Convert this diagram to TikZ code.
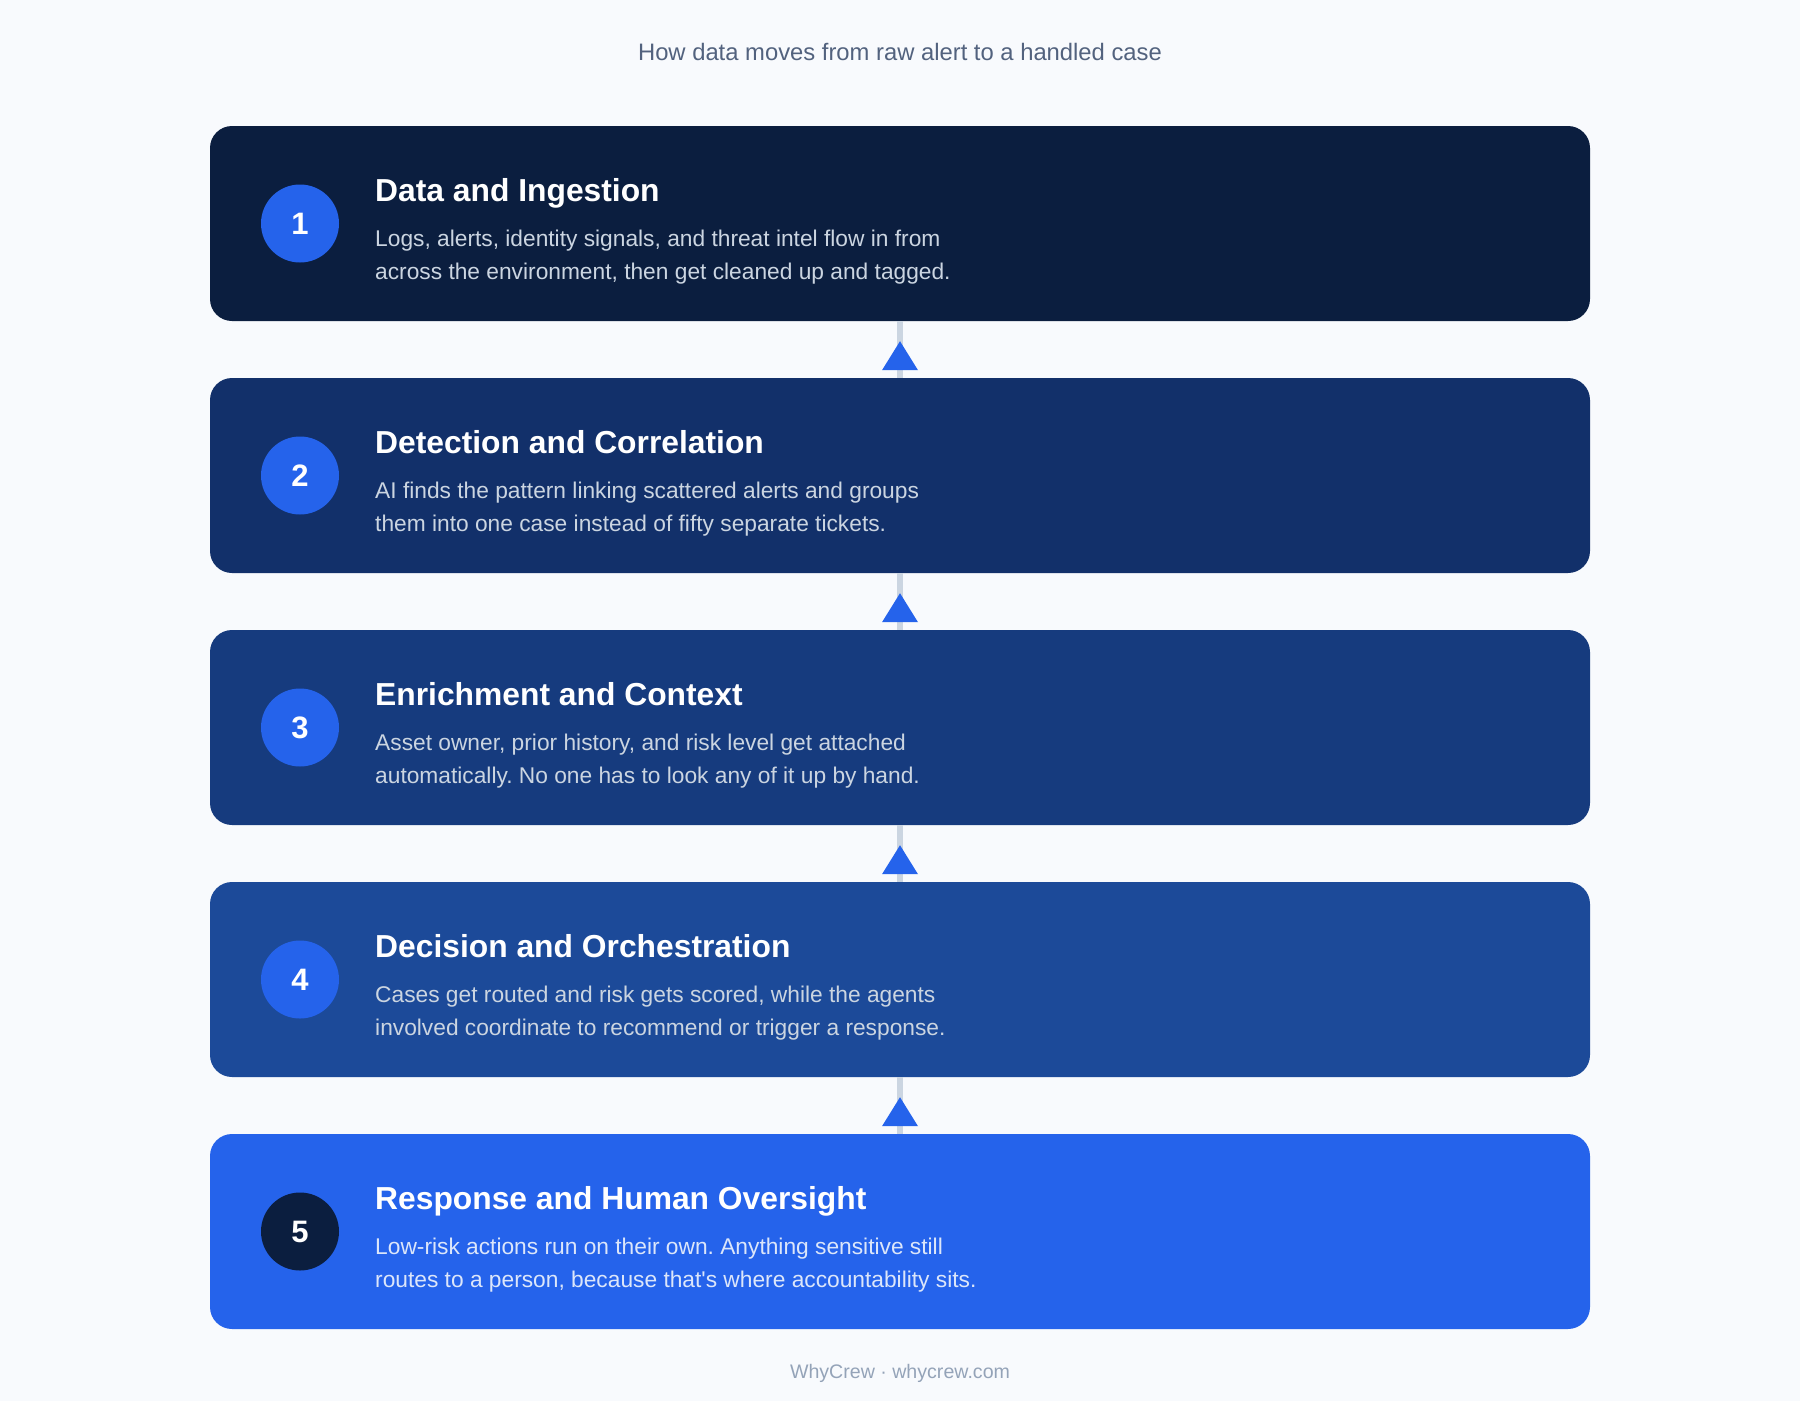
\documentclass[tikz,border=0pt]{standalone}
\usepackage{fontspec}
\setmainfont{Liberation Sans}
\usetikzlibrary{arrows.meta}
\frenchspacing

\definecolor{pageBg}{HTML}{F8FAFD}
\definecolor{navyA}{HTML}{0B1E3F}
\definecolor{navyB}{HTML}{12306A}
\definecolor{navyC}{HTML}{163B7E}
\definecolor{navyD}{HTML}{1C4A99}
\definecolor{brandBlue}{HTML}{2563EB}
\definecolor{railGrey}{HTML}{CBD5E1}
\definecolor{descGrey}{HTML}{CBD5E1}
\definecolor{descLight}{HTML}{DCE6FA}
\definecolor{subGrey}{HTML}{52627E}
\definecolor{footGrey}{HTML}{94A3B8}

\begin{document}
\begin{tikzpicture}
[x=1pt,y=-1pt,
  stageBox/.style={rectangle,rounded corners=22pt,minimum width=1380pt,
    minimum height=195pt,inner sep=0pt},
  stepCircle/.style={circle,minimum size=78pt,inner sep=0pt,text=white,
    font=\fontsize{31}{31}\selectfont\bfseries},
  titleText/.style={anchor=base west,inner sep=0pt,text=white,
    font=\fontsize{31.8}{31.8}\selectfont\bfseries},
  descText/.style={anchor=base west,inner sep=0pt,
    font=\fontsize{22.75}{22.75}\selectfont},
  railLine/.style={draw=railGrey,line width=6pt},
  railArrow/.style={railLine,
    -{Triangle[width=36pt,length=29pt,line width=0pt,color=brandBlue]}}]
\fill[pageBg] (0,0) rectangle (1800,1401);
\useasboundingbox (0,0) rectangle (1800,1401);
\node[anchor=base,inner sep=0pt,text=subGrey,
  font=\fontsize{23.8}{23.8}\selectfont] (subtitle) at (900,60)
  {How data moves from raw alert to a handled case};
% one card per stage
\foreach \n/\boxCol/\dotCol/\txtCol/\title/\lineA/\lineB in {
  1/navyA/brandBlue/descGrey/{Data and Ingestion}/
    {Logs, alerts, identity signals, and threat intel flow in from}/
    {across the environment, then get cleaned up and tagged.},
  2/navyB/brandBlue/descGrey/{Detection and Correlation}/
    {AI finds the pattern linking scattered alerts and groups}/
    {them into one case instead of fifty separate tickets.},
  3/navyC/brandBlue/descGrey/{Enrichment and Context}/
    {Asset owner, prior history, and risk level get attached}/
    {automatically. No one has to look any of it up by hand.},
  4/navyD/brandBlue/descGrey/{Decision and Orchestration}/
    {Cases get routed and risk gets scored, while the agents}/
    {involved coordinate to recommend or trigger a response.},
  5/brandBlue/navyA/descLight/{Response and Human Oversight}/
    {Low-risk actions run on their own. Anything sensitive still}/
    {routes to a person, because that\textquotesingle s where accountability sits.}}
{
  \pgfmathsetmacro{\boxTop}{126+252*(\n-1)}
  \node[stageBox,fill=\boxCol] (box\n) at (900,\boxTop+97.5) {};
  \node[stepCircle,fill=\dotCol] (dot\n) at (300,\boxTop+97.5) {\n};
  \node[titleText] (title\n) at (375,\boxTop+75) {\title};
  \node[descText,text=\txtCol] (descA\n) at (375,\boxTop+120) {\lineA};
  \node[descText,text=\txtCol] (descB\n) at (375,\boxTop+153) {\lineB};
}
% rails between cards
\foreach \upper/\lower in {1/2,2/3,3/4,4/5}
{
  \path (box\upper.south) ++(0,20) coordinate (tip\upper);
  \draw[railLine] (box\lower.north) -- (box\upper.south);
  \draw[railArrow] (box\lower.north) -- (tip\upper);
}
\node[anchor=base,inner sep=0pt,text=footGrey,
  font=\fontsize{19.6}{19.6}\selectfont] (footer) at (900,1378)
  {WhyCrew · whycrew.com};
\end{tikzpicture}
\end{document}
